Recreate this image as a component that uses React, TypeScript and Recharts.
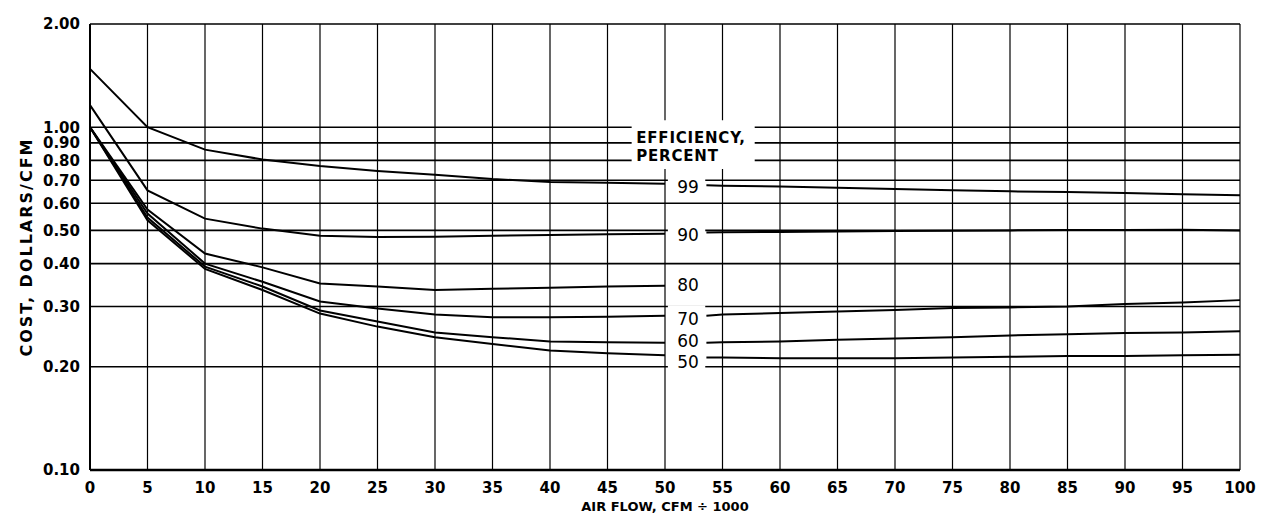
import React from 'react';
import { LineChart, Line, XAxis, YAxis, CartesianGrid, ReferenceArea, ReferenceDot } from 'recharts';

// Air flow (CFM / 1000) – left part of curves (before the label gap) and right part
const leftFlow = [0, 5, 10, 15, 20, 25, 30, 35, 40, 45, 50];
const rightFlow = [53.6, 55, 60, 65, 70, 75, 80, 85, 90, 95, 100];
const gapFlow = 52;

// Cost, dollars/CFM per efficiency curve
const eff99Left = [1.48, 1.0, 0.86, 0.805, 0.77, 0.745, 0.727, 0.706, 0.692, 0.688, 0.684];
const eff99Right = [0.677, 0.675, 0.671, 0.666, 0.66, 0.655, 0.65, 0.647, 0.643, 0.637, 0.633];
const eff90Left = [1.16, 0.654, 0.541, 0.506, 0.482, 0.478, 0.479, 0.482, 0.485, 0.487, 0.489];
const eff90Right = [0.493, 0.494, 0.495, 0.496, 0.498, 0.499, 0.5, 0.501, 0.501, 0.502, 0.5];
const eff80Left = [1.0, 0.575, 0.428, 0.39, 0.35, 0.343, 0.335, 0.338, 0.34, 0.343, 0.345];
const eff80Right: (number | null)[] = [null, null, null, null, null, null, null, null, null, null, null];
const eff70Left = [1.0, 0.56, 0.4, 0.354, 0.31, 0.296, 0.284, 0.279, 0.279, 0.28, 0.282];
const eff70Right = [0.282, 0.284, 0.287, 0.29, 0.293, 0.297, 0.298, 0.3, 0.305, 0.308, 0.313];
const eff60Left = [1.0, 0.545, 0.392, 0.343, 0.292, 0.271, 0.252, 0.244, 0.237, 0.236, 0.235];
const eff60Right = [0.235, 0.236, 0.237, 0.24, 0.242, 0.244, 0.247, 0.249, 0.251, 0.252, 0.254];
const eff50Left = [1.0, 0.535, 0.386, 0.335, 0.286, 0.262, 0.244, 0.233, 0.223, 0.219, 0.216];
const eff50Right = [0.213, 0.213, 0.212, 0.212, 0.212, 0.213, 0.214, 0.215, 0.215, 0.216, 0.217];

const seriesKeys = ['e99', 'e90', 'e80', 'e70', 'e60', 'e50'];
const seriesLeft = [eff99Left, eff90Left, eff80Left, eff70Left, eff60Left, eff50Left];
const seriesRight = [eff99Right, eff90Right, eff80Right, eff70Right, eff60Right, eff50Right];

// Curve labels and the cost level at which each label sits
const efficiencyLabels = ['99', '90', '80', '70', '60', '50'];
const labelLevels = [0.669, 0.485, 0.347, 0.275, 0.238, 0.207];
const labelFlow = 52;

// Axis ticks
const flowTicks = [0, 5, 10, 15, 20, 25, 30, 35, 40, 45, 50, 55, 60, 65, 70, 75, 80, 85, 90, 95, 100];
const costTicks = [0.1, 0.2, 0.3, 0.4, 0.5, 0.6, 0.7, 0.8, 0.9, 1.0, 2.0];

const titleLines = ['EFFICIENCY,', 'PERCENT'];
const titleLevels = [0.932, 0.826];

const buildData = () => {
  const rows: any[] = [];
  leftFlow.forEach((f, i) => {
    const r: any = { flow: f };
    seriesKeys.forEach((k, s) => (r[k] = seriesLeft[s][i]));
    rows.push(r);
  });
  const gap: any = { flow: gapFlow };
  seriesKeys.forEach((k) => (gap[k] = null));
  rows.push(gap);
  rightFlow.forEach((f, i) => {
    const r: any = { flow: f };
    seriesKeys.forEach((k, s) => (r[k] = seriesRight[s][i]));
    rows.push(r);
  });
  return rows;
};

const data = buildData();

const FONT = '"DejaVu Sans", sans-serif';
const tickStyle = { fontSize: 15, fontFamily: FONT, fontWeight: 700, fill: '#000' };

export default function App() {
  return (
    <div
      style={{
        marginLeft: -1,
        marginTop: -3,
        width: 1257,
        height: 526,
        borderTop: '1px dotted #222',
        borderLeft: '1px dotted #222',
        position: 'relative',
        background: '#fff',
      }}
    >
      <LineChart
        width={1250}
        height={522}
        data={data}
        margin={{ top: 18, right: 18, left: 0, bottom: 0 }}
      >
        <CartesianGrid horizontal={true} vertical={false} stroke="#000" strokeWidth={1.6} />
        <CartesianGrid horizontal={false} vertical={true} stroke="#000" strokeWidth={1.2} />
        <XAxis
          dataKey="flow"
          type="number"
          domain={[0, 100]}
          ticks={flowTicks}
          interval={0}
          tickLine={false}
          axisLine={{ stroke: '#000', strokeWidth: 2.5 }}
          height={58}
          tickMargin={6}
          tick={tickStyle}
          label={{
            value: 'AIR FLOW, CFM ÷ 1000',
            position: 'insideBottom',
            offset: 17,
            fontSize: 13,
            fontFamily: FONT,
            fontWeight: 700,
            fill: '#000',
          }}
        />
        <YAxis
          type="number"
          scale="log"
          domain={[0.1, 2]}
          allowDataOverflow
          ticks={costTicks}
          interval={0}
          width={82}
          tickLine={false}
          tickMargin={4}
          axisLine={{ stroke: '#000', strokeWidth: 2 }}
          tick={tickStyle}
          tickFormatter={(v: number) => v.toFixed(2)}
          label={{
            value: 'COST, DOLLARS/CFM',
            angle: -90,
            position: 'insideLeft',
            offset: 18,
            style: { textAnchor: 'middle' },
            fontSize: 16,
            fontFamily: FONT,
            fontWeight: 700,
            fill: '#000',
            letterSpacing: 2,
          }}
        />
        <ReferenceArea x1={47.1} x2={57.8} y1={0.755} y2={1.048} fill="#fff" fillOpacity={1} stroke="none" />
        {labelLevels.map((lv, i) => (
          <ReferenceArea
            key={'box' + i}
            x1={50.25}
            x2={53.5}
            y1={lv / 1.1}
            y2={lv * 1.1}
            fill="#fff"
            fillOpacity={1}
            stroke="none"
          />
        ))}
        {seriesKeys.map((k) => (
          <Line
            key={k}
            dataKey={k}
            type="linear"
            stroke="#000"
            strokeWidth={2}
            dot={false}
            activeDot={false}
            connectNulls={false}
            isAnimationActive={false}
          />
        ))}
        {efficiencyLabels.map((t, i) => (
          <ReferenceDot
            key={'lbl' + i}
            x={labelFlow}
            y={labelLevels[i]}
            r={0}
            fill="none"
            stroke="none"
            label={{
              value: t,
              position: 'center',
              fontSize: 17,
              fontFamily: FONT,
              fill: '#000',
            }}
          />
        ))}
        {titleLines.map((t, i) => (
          <ReferenceDot
            key={'ttl' + i}
            x={47.5}
            y={titleLevels[i]}
            r={0}
            fill="none"
            stroke="none"
            label={{
              value: t,
              position: 'right',
              offset: 0,
              fontSize: 15,
              fontFamily: FONT,
              fontWeight: 700,
              fill: '#000',
              letterSpacing: 0.8,
            }}
          />
        ))}
      </LineChart>
    </div>
  );
}
